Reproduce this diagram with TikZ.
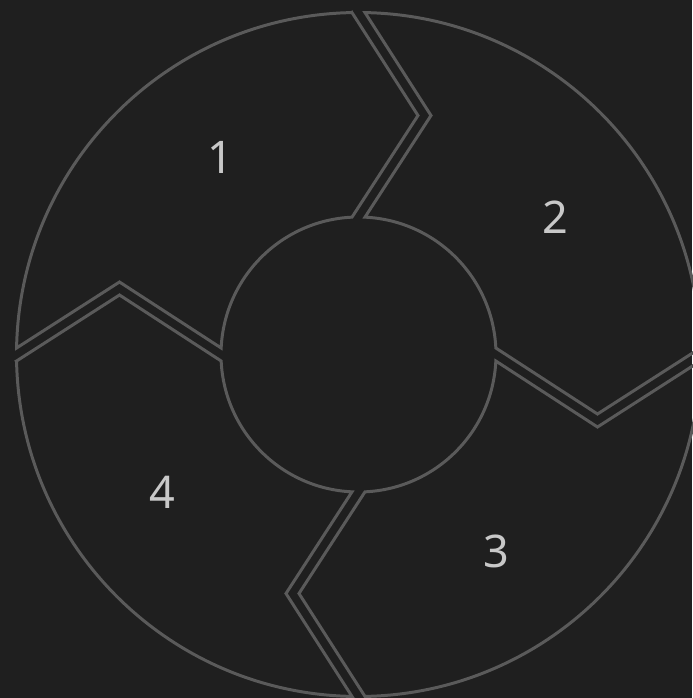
\documentclass[tikz,border=0pt]{standalone}
\usepackage{fontspec}
\setmainfont{Noto Sans}
\usepackage{xcolor}

\definecolor{bgdark}{HTML}{1F1F1F}
\definecolor{rimgray}{HTML}{5A5A5A}
\definecolor{numgray}{HTML}{C8C8C8}

\begin{document}
\begin{tikzpicture}[
  seg/.style={draw=rimgray,line width=0.85pt},
  num/.style={text=numgray,font=\fontsize{12.8}{14}\selectfont}
]
\fill[bgdark] (-3.585,-3.435) rectangle (3.335,3.545);
\useasboundingbox (-3.585,-3.435) rectangle (3.335,3.545);

% one quarter of the ring, turned four times
\foreach \turn in {0,90,180,270}{
  \draw[seg,rotate=\turn] (1.089:3.42) -- (2.39,-0.595) -- (2.71:1.375)
    arc[start angle=2.71,end angle=87.29,radius=1.375]
    -- (0.725,2.39) -- (88.911:3.42)
    arc[start angle=88.911,end angle=1.089,radius=3.42] -- cycle;
}

\node[num] (one)   at (125:2.4) {1};
\node[num] (two)   at (35:2.4)  {2};
\node[num] (three) at (-55:2.4) {3};
\node[num] (four)  at (215:2.4) {4};
\end{tikzpicture}
\end{document}
